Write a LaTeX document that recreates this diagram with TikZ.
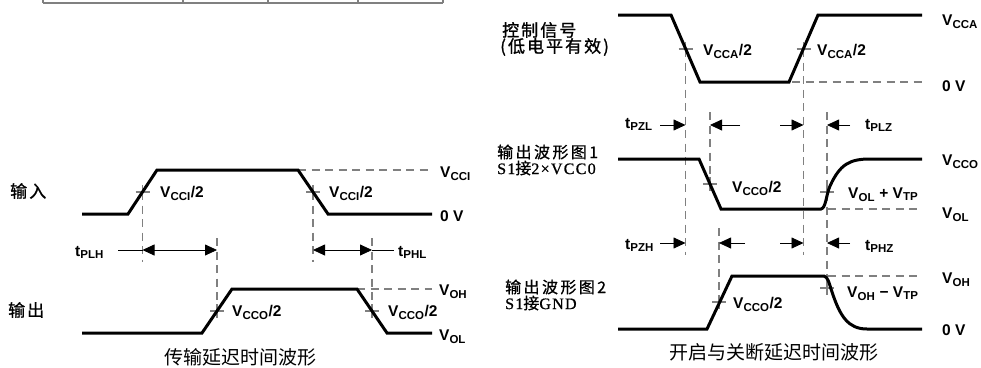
\documentclass[tikz,border=0pt]{standalone}
\usepackage{fontspec}
\setmainfont{Liberation Sans}
\newfontfamily\cjk{Noto Sans CJK SC}
\newfontfamily\cjkls[LetterSpace=15,FakeBold=0.8]{Noto Sans CJK SC}
\newfontfamily\cjkb[FakeBold=1.2,LetterSpace=12]{Noto Sans CJK SC}
\newfontfamily\lserif[LetterSpace=8,FakeBold=0.8]{Liberation Serif}
\usetikzlibrary{arrows.meta}
\newcommand\sub[1]{\textsubscript{\fontsize{11.5}{12}\selectfont #1}}
\tikzset{
  wave/.style={line width=3pt, line join=miter},
  dsh/.style={draw=black!50, line width=1.1pt, dash pattern=on 8pt off 5.5pt},
  tick/.style={draw=black!50, line width=1.1pt},
  tbl/.style={draw=black!50, line width=1.6pt},
  lead/.style={draw=black, line width=0.8pt},
  dimone/.style={lead, -{Triangle[length=12pt,width=11pt]}},
  dimtwo/.style={lead, {Triangle[length=12pt,width=11pt]}-{Triangle[length=12pt,width=11pt]}},
  lbl/.style={font=\fontsize{15.5}{18}\selectfont\bfseries, anchor=base west, inner sep=0pt},
  cjklbl/.style={font=\cjkls\fontsize{16}{18}\selectfont, anchor=west, inner sep=0pt},
  cjkhead/.style={font=\cjkb\fontsize{17}{19}\selectfont, anchor=west, inner sep=0pt},
  captxt/.style={font=\cjk\fontsize{19}{21}\selectfont, anchor=center, inner sep=0pt}
}
\begin{document}
\begin{tikzpicture}[x=1pt,y=-1pt]
\useasboundingbox (0,0) rectangle (981,367);

% table fragment at the top
\draw[tbl] (43,3) -- (443,3);
\foreach \x in {43,183,268,358,443} \draw[tbl] (\x,0) -- (\x,3);

% ================= left: propagation delay =================
\draw[dsh] (298,170) -- (432,170);
\draw[dsh] (357,289) -- (432,289);
\coordinate (cin1) at (142.5,192);
\coordinate (cin2) at (313,192);
\coordinate (cout1) at (217,311);
\coordinate (cout2) at (372,311);
\draw[dsh] (cin1) -- (142.5,262);
\draw[dsh] (cin2) -- (313,262);
\draw[dsh] (217,238) -- (cout1);
\draw[dsh] (372,238) -- (cout2);
\foreach \c in {cin1,cin2,cout1,cout2}
  \draw[tick] (\c) ++(-7,0) -- ++(14,0) (\c) ++(0,-7) -- ++(0,14);
\draw[wave] (82,214) -- (128,214) -- (157,170) -- (298,170) -- (328,214) -- (432,214);
\draw[wave] (82,333) -- (202,333) -- (232,289) -- (357,289) -- (387,333) -- (432,333);
\coordinate (pa1) at (142.5,250);
\coordinate (pa2) at (217,250);
\coordinate (pb1) at (313,250);
\coordinate (pb2) at (372,250);
\coordinate (la) at (118,250);
\coordinate (lb) at (394,250);
\draw[dimtwo] (pa1) -- (pa2);
\draw[dimtwo] (pb1) -- (pb2);
\draw[lead] (la) -- (pa1);
\draw[lead] (pb2) -- (lb);
\node[lbl] (l1) at (160,197) {V\sub{CCI}/2};
\node[lbl] (l2) at (329,197) {V\sub{CCI}/2};
\node[lbl] (l3) at (440,177) {V\sub{CCI}};
\node[lbl] (l4) at (440,221) {0 V};
\node[lbl] (l5) at (75,256) {t\sub{PLH}};
\node[lbl] (l6) at (398,256) {t\sub{PHL}};
\node[lbl] (l7) at (439,295) {V\sub{OH}};
\node[lbl] (l8) at (232,316) {V\sub{CCO}/2};
\node[lbl] (l9) at (388,316) {V\sub{CCO}/2};
\node[lbl] (l10) at (439,340) {V\sub{OL}};
\node[cjkhead] (n1) at (10,191) {输入};
\node[cjkhead] (n2) at (8,310) {输出};
\node[captxt] (c1) at (240,357) {传输延迟时间波形};

% ================= right: enable / disable =================
\coordinate (k1) at (685.5,49);
\coordinate (k2) at (803.5,49);
\coordinate (o1) at (710,184);
\coordinate (o2) at (827,192);
\coordinate (o3) at (719,302);
\coordinate (o4) at (827,288);
\draw[dsh] (792,82) -- (922,82);
\draw[dsh] (828,209) -- (922,209);
\draw[dsh] (828,276) -- (922,276);
\draw[dsh] (k1) -- (685.5,255);
\draw[dsh] (k2) -- (803.5,255);
\draw[dsh] (710,112) -- (o1);
\draw[dsh] (827,112) -- (827,295);
\draw[dsh] (719,228) -- (o3);
\foreach \c in {k1,k2,o1,o2,o3,o4}
  \draw[tick] (\c) ++(-7,0) -- ++(14,0) (\c) ++(0,-7) -- ++(0,14);
\draw[wave] (618,15) -- (671,15) -- (700,82) -- (789,82) -- (818,15) -- (922,15);
\draw[wave] (618,159) -- (699,159) -- (721,209) -- (821,209)
  .. controls (826,208) and (826,195) .. (830,186)
  .. controls (840,164) and (850,159) .. (870,159) -- (922,159);
\draw[wave] (618,329) -- (707,329) -- (732,276) -- (824,276)
  .. controls (828,277) and (829,283) .. (832,292)
  .. controls (840,316) and (848,329) .. (867,329) -- (922,329);
\coordinate (s1) at (660,125);  \coordinate (e1) at (685.5,125);
\coordinate (s2) at (740,125);  \coordinate (e2) at (710,125);
\coordinate (s3) at (780,125);  \coordinate (e3) at (803.5,125);
\coordinate (s4) at (850,125);  \coordinate (e4) at (827,125);
\coordinate (s5) at (660,243);  \coordinate (e5) at (685.5,243);
\coordinate (s6) at (745,243);  \coordinate (e6) at (719,243);
\coordinate (s7) at (780,243);  \coordinate (e7) at (803.5,243);
\coordinate (s8) at (850,243);  \coordinate (e8) at (827,243);
\foreach \i in {1,...,8} \draw[dimone] (s\i) -- (e\i);
\node[lbl] (r1) at (703,55) {V\sub{CCA}/2};
\node[lbl] (r2) at (817,55) {V\sub{CCA}/2};
\node[lbl] (r3) at (942,25) {V\sub{CCA}};
\node[lbl] (r4) at (942,91) {0 V};
\node[lbl] (r5) at (625,128) {t\sub{PZL}};
\node[lbl] (r6) at (865,129) {t\sub{PLZ}};
\node[lbl] (r7) at (942,165) {V\sub{CCO}};
\node[lbl] (r8) at (942,218) {V\sub{OL}};
\node[lbl] (r9) at (732,192) {V\sub{CCO}/2};
\node[lbl] (r10) at (848,198) {V\sub{OL} + V\sub{TP}};
\node[lbl] (r11) at (625,249) {t\sub{PZH}};
\node[lbl] (r12) at (865,250) {t\sub{PHZ}};
\node[lbl] (r13) at (942,283) {V\sub{OH}};
\node[lbl] (r14) at (847,297) {V\sub{OH} − V\sub{TP}};
\node[lbl] (r15) at (733,308) {V\sub{CCO}/2};
\node[lbl] (r16) at (942,335) {0 V};
\node[cjkhead] (m1) at (502,30) {控制信号};
\node[cjkhead] (m2) at (500,47) {(低电平有效)};
\node[cjklbl] (m3) at (497,152) {输出波形图1};
\node[cjklbl] (m4) at (497,168) {{\lserif S1}接{\lserif 2×VCC0}};
\node[cjklbl] (m5) at (505,287) {输出波形图2};
\node[cjklbl] (m6) at (505,303) {{\lserif S1}接{\lserif GND}};
\node[captxt] (c2) at (774,352) {开启与关断延迟时间波形};
\end{tikzpicture}
\end{document}
